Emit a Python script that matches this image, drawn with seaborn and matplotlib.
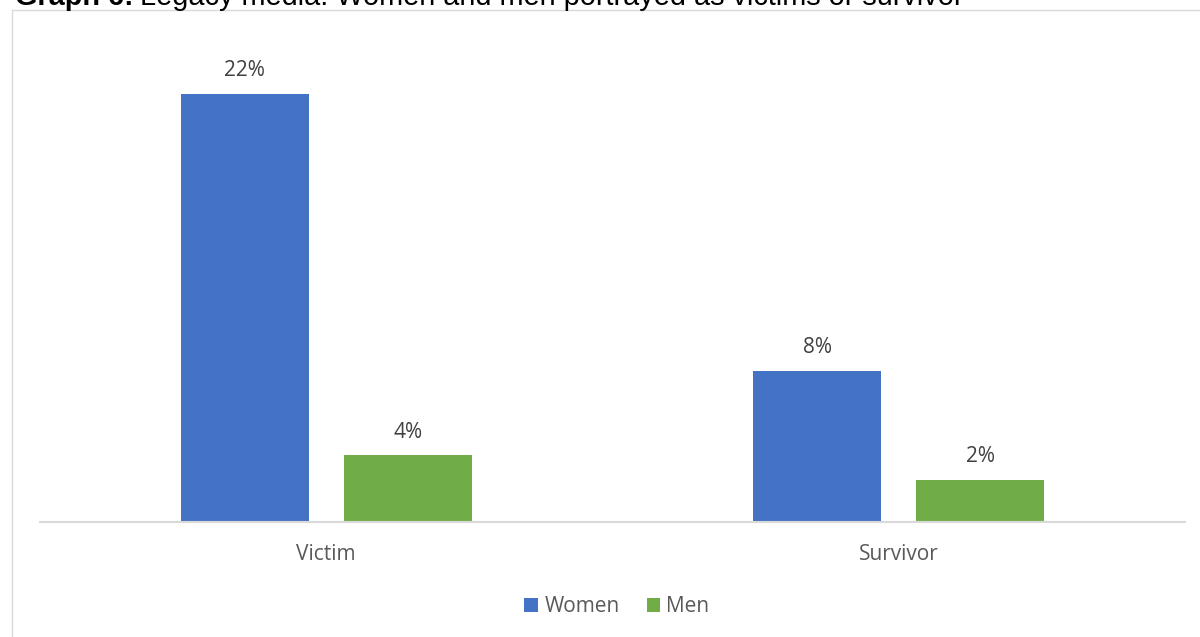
import matplotlib
matplotlib.use("Agg")
import matplotlib.pyplot as plt
import seaborn as sns
import pandas as pd
from matplotlib.patches import Rectangle

categories = ["Victim", "Survivor"]
women = [22.4, 7.9]
men = [3.5, 2.2]
women_labels = ["22%", "8%"]
men_labels = ["4%", "2%"]
series = ["Women", "Men"]
colors = ["#4472C4", "#70AD47"]

df = pd.DataFrame({
    "category": categories * 2,
    "value": women + men,
    "series": [series[0]] * 2 + [series[1]] * 2,
})

sns.set_theme(style="white")
plt.rcParams["font.family"] = ["Open Sans", "DejaVu Sans"]

fig = plt.figure(figsize=(12, 6.37), dpi=100)
ax = fig.add_axes((40 / 1200, 1 - 522 / 637, 1145 / 1200, 478 / 637))

sns.barplot(data=df, x="category", y="value", hue="series", palette=colors,
            width=0.57, gap=0.214, ax=ax, saturation=1, linewidth=0, legend=True)

for cont, labs in zip(ax.containers, [women_labels, men_labels]):
    ax.bar_label(cont, labels=labs, padding=9, fontsize=15, color="#404040")

ax.set_xlim(-0.5, 1.5)
ax.set_ylim(0, 25)
ax.set_xlabel("")
ax.set_ylabel("")
ax.set_yticks([])
ax.tick_params(axis="x", length=0, pad=16, labelsize=15, labelcolor="#595959")
for s in ["top", "right", "left"]:
    ax.spines[s].set_visible(False)
ax.spines["bottom"].set_color("#d9d9d9")
ax.spines["bottom"].set_linewidth(1.5)

ax.legend(loc="center", bbox_to_anchor=(617 / 1200, 1 - 607 / 637),
          bbox_transform=fig.transFigure, ncol=2, frameon=False, fontsize=15,
          handlelength=0.65, handleheight=0.65, handletextpad=0.3, columnspacing=1.3,
          labelcolor="#595959")

fig.patches.append(Rectangle((12 / 1200, -0.01), 1.0, 1 - 10 / 637 + 0.01,
                             transform=fig.transFigure, fill=False,
                             edgecolor="#d9d9d9", linewidth=1))

# title cut off at the top of the image
ty = 1 - 5 / 637
t1 = fig.text(15 / 1200, ty, "Graph 6:", fontsize=20.8, fontweight="bold",
              family="Liberation Sans", va="baseline", color="black")
fig.canvas.draw()
bb = t1.get_window_extent()
fig.text(bb.x1 / 1200 + 6 / 1200, ty, "Legacy media: Women and men portrayed as victims or survivor",
         fontsize=20.8, family="Liberation Sans", va="baseline", color="black")

fig.savefig("out.png", dpi=100)
